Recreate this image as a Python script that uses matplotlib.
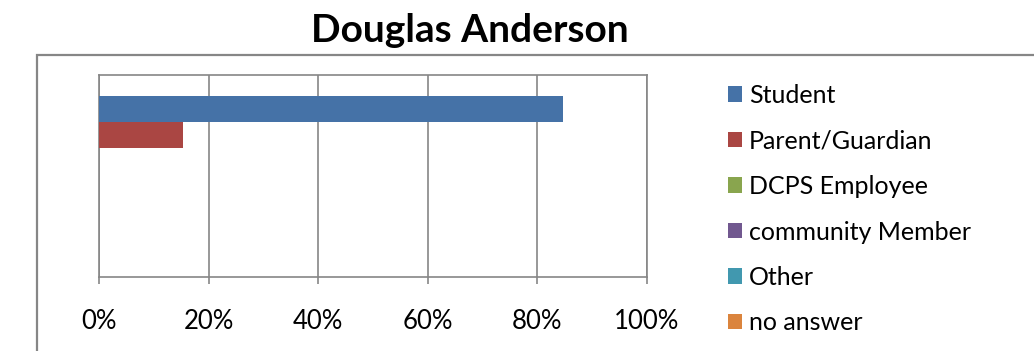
import matplotlib
matplotlib.use("Agg")
import matplotlib.pyplot as plt
from matplotlib.patches import Rectangle, Patch
from matplotlib.ticker import FixedLocator, PercentFormatter

# data
series = ["Student", "Parent/Guardian", "DCPS Employee", "community Member", "Other", "no answer"]
values = [0.846, 0.154, 0.0, 0.0, 0.0, 0.0]
colors = ["#4572A7", "#AA4643", "#89A54E", "#71588F", "#4198AF", "#DB843D"]
xticks = [0, 0.2, 0.4, 0.6, 0.8, 1.0]

W, H = 1034, 351
plt.rcParams["font.family"] = ["Lato", "DejaVu Sans"]

fig = plt.figure(figsize=(W / 100, H / 100), dpi=100)

# outer chart border (runs off the right and bottom edges)
fig.patches.append(Rectangle((37 / W, -0.1), 1.1, (H - 55) / H + 0.1,
                             transform=fig.transFigure, fill=False,
                             edgecolor="#868686", linewidth=1.6))

fig.text(470 / W, (H - 31) / H, "Douglas Anderson", ha="center", va="center",
         fontsize=28, fontweight="bold")

ax = fig.add_axes([99 / W, (H - 277) / H, 548 / W, 202 / H])
for i, (v, c) in enumerate(zip(values, colors)):
    ax.barh(i, v, height=1.0, color=c, linewidth=0, zorder=3)

ax.set_xlim(0, 1)
ax.set_ylim(6.46, -1.31)
ax.xaxis.set_major_locator(FixedLocator(xticks))
ax.xaxis.set_major_formatter(PercentFormatter(1.0, decimals=0))
ax.set_yticks([])
ax.grid(axis="x", color="#868686", linewidth=1.2, zorder=0)
for s in ax.spines.values():
    s.set_color("#868686")
    s.set_linewidth(1.2)
ax.tick_params(axis="x", length=5, width=1.2, color="#868686", pad=18, labelsize=18.5)

handles = [Patch(facecolor=c, edgecolor="none") for c in colors]
fig.legend(handles, series, loc="upper left", bbox_to_anchor=(728 / W, (H - 84) / H),
           frameon=False, fontsize=18, handlelength=0.57, handleheight=0.57,
           handletextpad=0.26, labelspacing=0.9, borderpad=0, borderaxespad=0)

fig.savefig("out.png", dpi=100)
